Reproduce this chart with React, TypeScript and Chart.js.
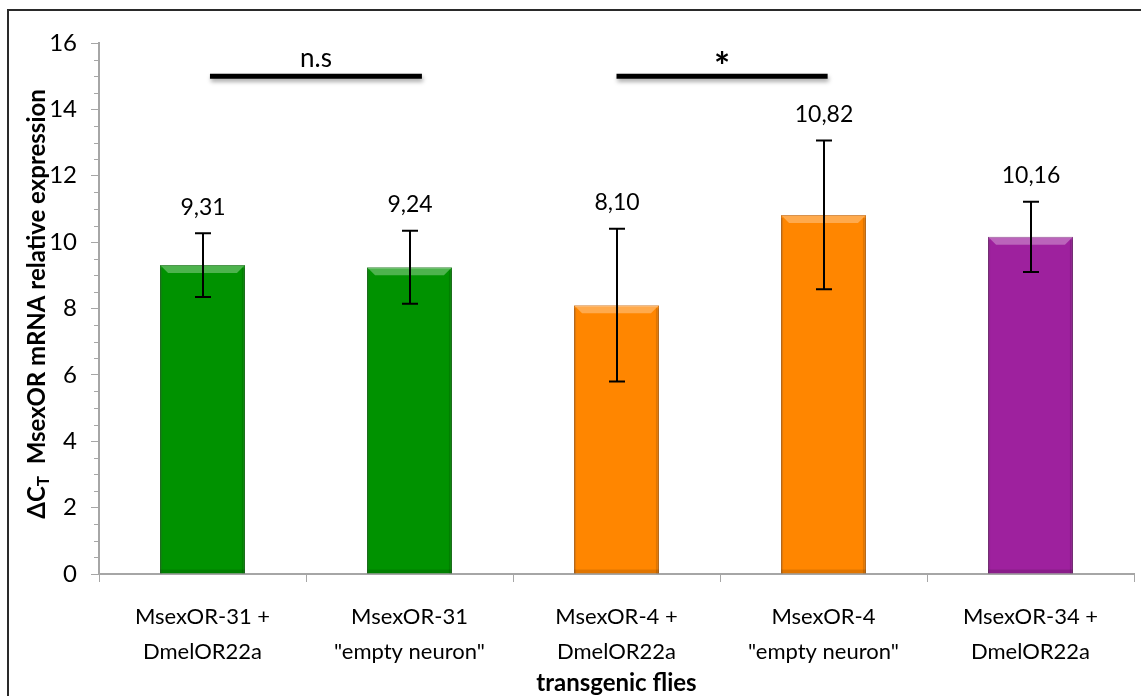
import { useEffect, useRef } from "react";
import { Chart, registerables } from "chart.js";
Chart.register(...registerables);

const FONT = "Lato, 'Open Sans', sans-serif";

const categories = [
  ["MsexOR-31 +", "DmelOR22a"],
  ["MsexOR-31", "\"empty neuron\""],
  ["MsexOR-4 +", "DmelOR22a"],
  ["MsexOR-4", "\"empty neuron\""],
  ["MsexOR-34 +", "DmelOR22a"],
];
const values = [9.31, 9.24, 8.1, 10.82, 10.16];
const errors = [0.96, 1.1, 2.3, 2.24, 1.06];
const valueLabels = ["9,31", "9,24", "8,10", "10,82", "10,16"];
const barColors = ["#009200", "#009200", "#ff8600", "#ff8600", "#9e219e"];
const barEdges = ["#006a00", "#006a00", "#c86400", "#c86400", "#701870"];
// significance brackets, in category-index units
const sigFrom = [0.036, 2.0];
const sigTo = [1.06, 3.02];
const sigLabels = ["n.s", "*"];
const sigLevel = 15;
const yTitleMain = "ΔC";
const yTitleSub = "T";
const yTitleRest = "  MsexOR mRNA relative expression";
const xTitle = "transgenic flies";

export default function App() {
  const ref = useRef<HTMLCanvasElement>(null);
  useEffect(() => {
    const canvas = ref.current!;
    const overlay = {
      id: "overlay",
      beforeDraw(chart: any) {
        const ctx = chart.ctx;
        ctx.save();
        ctx.fillStyle = "#fff";
        ctx.fillRect(0, 0, chart.width, chart.height);
        ctx.strokeStyle = "#2a2a2a";
        ctx.lineWidth = 2;
        ctx.strokeRect(8, 10, 1300, 900);
        ctx.restore();
      },
      beforeDatasetsDraw(chart: any) {
        const ctx = chart.ctx;
        const y = chart.scales.y;
        const left = chart.chartArea.left;
        ctx.save();
        ctx.strokeStyle = "#a6a6a6";
        ctx.lineWidth = 1;
        for (let v = 0; v <= 16; v += 0.5) {
          if (v % 2 === 0) continue;
          const py = Math.round(y.getPixelForValue(v)) + 0.5;
          ctx.beginPath();
          ctx.moveTo(left - 5, py);
          ctx.lineTo(left, py);
          ctx.stroke();
        }
        ctx.restore();
      },
      afterDatasetsDraw(chart: any) {
        const ctx = chart.ctx;
        const meta = chart.getDatasetMeta(0);
        const ys = chart.scales.y;
        const xs = chart.scales.x;
        ctx.save();
        meta.data.forEach((bar: any) => {
          const l = bar.x - bar.width / 2;
          const r = bar.x + bar.width / 2;
          const t = bar.y;
          const b = 8;
          ctx.fillStyle = "rgba(255,255,255,0.3)";
          ctx.beginPath();
          ctx.moveTo(l, t);
          ctx.lineTo(r, t);
          ctx.lineTo(r - b, t + b);
          ctx.lineTo(l + b, t + b);
          ctx.closePath();
          ctx.fill();
          ctx.fillStyle = "rgba(0,0,0,0.12)";
          ctx.fillRect(r - 3, t + 3, 3, bar.base - t - 3);
          ctx.fillRect(l, t + 3, 2, bar.base - t - 3);
          ctx.fillRect(l, bar.base - 4, r - l, 4);
        });
        ctx.strokeStyle = "#000";
        ctx.lineWidth = 2;
        meta.data.forEach((bar: any, i: number) => {
          const x = Math.round(bar.x);
          const top = ys.getPixelForValue(values[i] + errors[i]);
          const bot = ys.getPixelForValue(values[i] - errors[i]);
          ctx.beginPath();
          ctx.moveTo(x, top);
          ctx.lineTo(x, bot);
          ctx.moveTo(x - 8, top);
          ctx.lineTo(x + 8, top);
          ctx.moveTo(x - 8, bot);
          ctx.lineTo(x + 8, bot);
          ctx.stroke();
          ctx.fillStyle = "#000";
          ctx.font = `23px ${FONT}`;
          ctx.textAlign = "center";
          ctx.textBaseline = "middle";
          ctx.fillText(valueLabels[i], x, top - 26);
        });
        sigFrom.forEach((f, k) => {
          const x1 = xs.getPixelForValue(f);
          const x2 = xs.getPixelForValue(sigTo[k]);
          const py = ys.getPixelForValue(sigLevel);
          ctx.save();
          ctx.shadowColor = "rgba(0,0,0,0.35)";
          ctx.shadowBlur = 4;
          ctx.shadowOffsetY = 3;
          ctx.shadowOffsetX = 1;
          ctx.strokeStyle = "#000";
          ctx.lineWidth = 5;
          ctx.beginPath();
          ctx.moveTo(x1, py);
          ctx.lineTo(x2, py);
          ctx.stroke();
          ctx.restore();
          ctx.fillStyle = "#000";
          ctx.textAlign = "center";
          ctx.textBaseline = "middle";
          const star = sigLabels[k] === "*";
          ctx.font = star ? `bold 38px ${FONT}` : `26px ${FONT}`;
          ctx.fillText(sigLabels[k], (x1 + x2) / 2, py - (star ? 8 : 18));
        });
        ctx.restore();
      },
      afterDraw(chart: any) {
        const ctx = chart.ctx;
        const ca = chart.chartArea;
        ctx.save();
        ctx.fillStyle = "#000";
        ctx.textBaseline = "middle";
        ctx.font = `bold 24px ${FONT}`;
        ctx.textAlign = "center";
        ctx.fillText(xTitle, (ca.left + ca.right) / 2, 683);
        const main = `bold 24px ${FONT}`;
        const sub = `bold 17px ${FONT}`;
        ctx.font = main;
        const w1 = ctx.measureText(yTitleMain).width;
        const w3 = ctx.measureText(yTitleRest).width;
        ctx.font = sub;
        const w2 = ctx.measureText(yTitleSub).width;
        const total = w1 + w2 + w3;
        ctx.translate(37, 304);
        ctx.rotate(-Math.PI / 2);
        ctx.textAlign = "left";
        let x = -total / 2;
        ctx.font = main;
        ctx.fillText(yTitleMain, x, 0);
        x += w1;
        ctx.font = sub;
        ctx.fillText(yTitleSub, x, 7);
        x += w2;
        ctx.font = main;
        ctx.fillText(yTitleRest, x, 0);
        ctx.restore();
      },
    };
    const chart = new Chart(canvas, {
      type: "bar",
      data: {
        labels: categories,
        datasets: [
          {
            data: values,
            backgroundColor: barColors,
            borderColor: barEdges,
            borderWidth: 1,
            barPercentage: 0.41,
            categoryPercentage: 1,
          },
        ],
      },
      options: {
        animation: false,
        responsive: false,
        devicePixelRatio: 1,
        layout: { padding: { top: 43, right: 7, left: 0, bottom: 0 } },
        plugins: { legend: { display: false }, tooltip: { enabled: false } },
        scales: {
          x: {
            grid: { display: true, drawOnChartArea: false, drawTicks: true, tickLength: 8, color: "#a6a6a6", offset: true },
            border: { color: "#a6a6a6", width: 2 },
            ticks: { font: { family: FONT, size: 22, lineHeight: 1.56 }, color: "#000", padding: 18, maxRotation: 0, autoSkip: false },
            afterFit(s: any) { s.height = 122; },
          },
          y: {
            min: 0,
            max: 16,
            ticks: { stepSize: 2, font: { family: FONT, size: 24 }, color: "#000", padding: 14 },
            grid: { drawOnChartArea: false, tickLength: 8, color: "#a6a6a6" },
            border: { color: "#a6a6a6", width: 2 },
            afterFit(s: any) { s.width = 99; },
          },
        },
      },
      plugins: [overlay],
    } as any);
    return () => chart.destroy();
  }, []);
  return (
    <div style={{ position: "fixed", left: 0, top: 0, width: 1141, height: 696 }}>
      <canvas ref={ref} width={1141} height={696} style={{ display: "block" }} />
    </div>
  );
}
